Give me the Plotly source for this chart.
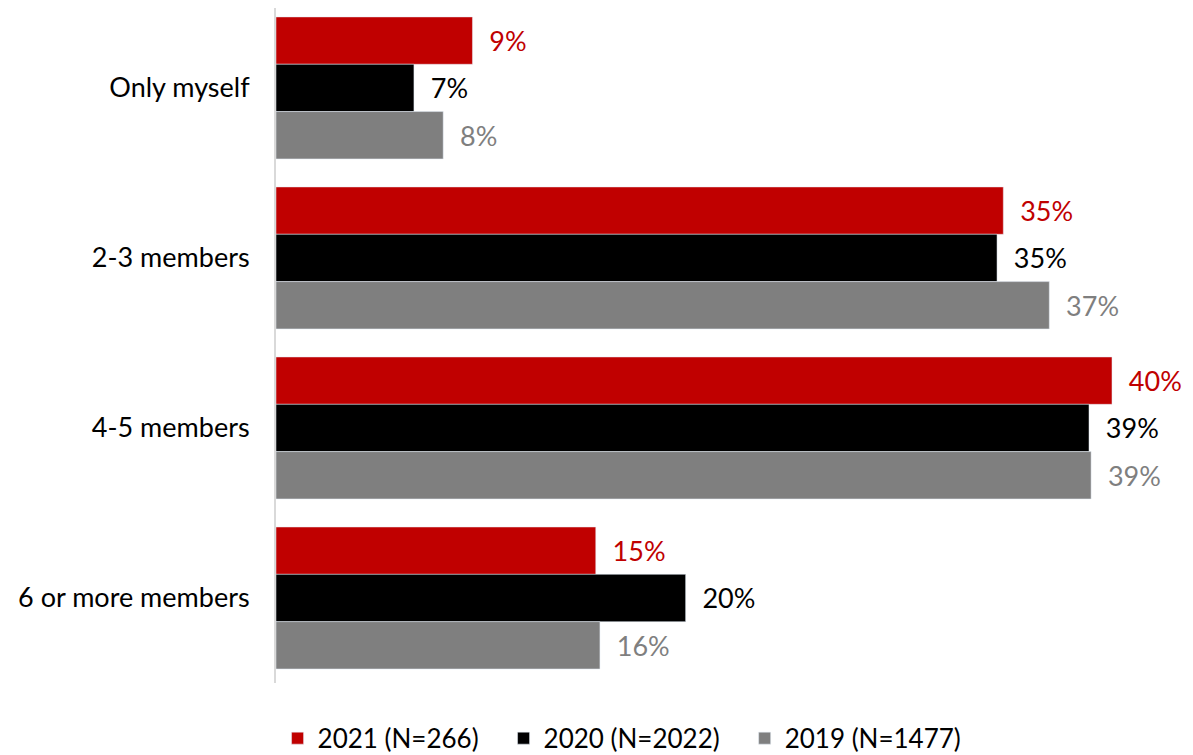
import plotly.graph_objects as go

categories = ["Only myself", "2-3 members", "4-5 members", "6 or more members"]
series_names = ["2021 (N=266)", "2020 (N=2022)", "2019 (N=1477)"]
values_2021 = [9.4, 34.8, 40.0, 15.3]
values_2020 = [6.6, 34.5, 38.9, 19.6]
values_2019 = [8.0, 37.0, 39.0, 15.5]
labels_2021 = ["9%", "35%", "40%", "15%"]
labels_2020 = ["7%", "35%", "39%", "20%"]
labels_2019 = ["8%", "37%", "39%", "16%"]

colors = ["#c00000", "#000000", "#7f7f7f"]
font_family = "Lato, 'Open Sans', sans-serif"
font_size = 27
pad = "\u00a0" * 3  # a little extra room between legend entries

fig = go.Figure()
# y axis is reversed, so the first trace sits at the top of each group
for name, vals, labels, color in zip(
        series_names,
        [values_2021, values_2020, values_2019],
        [labels_2021, labels_2020, labels_2019],
        colors):
    fig.add_trace(go.Bar(
        y=categories, x=vals, name=name + pad, orientation="h",
        marker_color=color,
        text=labels, texttemplate="  %{text}", textposition="outside",
        textfont=dict(color=color, size=font_size, family=font_family),
        cliponaxis=False,
    ))

# the page adds an 8px body margin, margins below compensate for it
fig.update_layout(
    width=1193, height=755,
    barmode="group", bargap=0.165, bargroupgap=0,
    plot_bgcolor="white", paper_bgcolor="white",
    margin=dict(l=268, r=19, t=0, b=80),
    font=dict(family=font_family, size=font_size, color="#000000"),
    xaxis=dict(range=[0, 43.35], visible=False),
    yaxis=dict(range=[3.5, -0.47], showline=True, linecolor="#d9d9d9",
               linewidth=2, ticks="", ticklabelstandoff=19, automargin=False,
               tickfont=dict(size=font_size)),
    legend=dict(orientation="h", x=0.393, xanchor="center",
                y=-0.047, yanchor="top", font=dict(size=26)),
    showlegend=True,
)

fig.write_html("out.html")
